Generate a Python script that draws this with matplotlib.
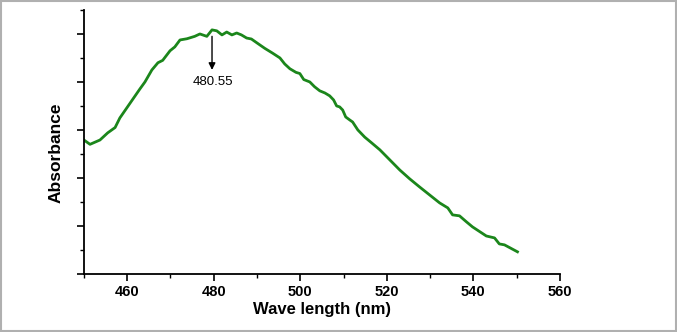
import matplotlib.pyplot as plt
from matplotlib.patches import Rectangle
from matplotlib.ticker import MultipleLocator, NullFormatter

plt.rcParams['font.family'] = ['Liberation Sans', 'DejaVu Sans']

# absorbance spectrum (arbitrary units)
wavelength = [450.0, 451.4, 453.7, 455.5, 457.2, 458.3, 460.6, 462.9, 464.1, 465.7,
              467.1, 468.2, 469.9, 471.0, 472.2, 473.8, 475.6, 476.8, 478.4, 479.6,
              480.7, 481.9, 483.0, 484.2, 485.3, 486.4, 487.6, 488.7, 490.2, 491.8,
              493.6, 495.3, 496.4, 497.6, 499.0, 499.9, 500.8, 502.2, 503.3, 504.5,
              505.7, 506.8, 507.7, 508.4, 509.1, 509.8, 510.5, 511.4, 512.1, 513.3,
              514.9, 516.5, 518.4, 520.7, 523.0, 525.3, 527.6, 529.9, 532.2, 534.1,
              535.2, 536.8, 538.4, 539.8, 543.0, 544.9, 546.0, 547.2, 550.2]
absorbance = [0.558, 0.54, 0.558, 0.588, 0.61, 0.65, 0.71, 0.77, 0.80, 0.85,
              0.88, 0.89, 0.93, 0.946, 0.975, 0.98, 0.99, 1.0, 0.99, 1.017,
              1.013, 0.996, 1.008, 0.996, 1.004, 0.996, 0.983, 0.979, 0.96, 0.94,
              0.92, 0.90, 0.875, 0.855, 0.84, 0.835, 0.81, 0.80, 0.78, 0.763,
              0.754, 0.742, 0.725, 0.70, 0.696, 0.683, 0.654, 0.642, 0.633, 0.60,
              0.57, 0.546, 0.517, 0.475, 0.433, 0.396, 0.362, 0.329, 0.296, 0.275,
              0.246, 0.242, 0.217, 0.196, 0.158, 0.15, 0.125, 0.121, 0.092]

peak_x = 479.6      # where the arrow sits on the plot
peak_label = '480.55'

fig = plt.figure(figsize=(6.77, 3.32), dpi=100)
ax = fig.add_axes([0.124, 0.175, 0.703, 0.795])

ax.plot(wavelength, absorbance, color='#1b861b', lw=2.0)

# arrow pointing down from the peak, label underneath
ax.annotate('', xy=(peak_x, 0.85), xytext=(peak_x, 0.99),
            arrowprops=dict(arrowstyle='-|>', color='black', lw=1.0,
                            mutation_scale=10, shrinkA=0, shrinkB=0))
ax.text(peak_x + 0.2, 0.825, peak_label, ha='center', va='top', fontsize=9.5)

ax.set_xlim(450, 560)
ax.set_ylim(0, 1.1)
ax.xaxis.set_major_locator(MultipleLocator(20))
ax.xaxis.set_minor_locator(MultipleLocator(10))
ax.yaxis.set_major_locator(MultipleLocator(0.2))
ax.yaxis.set_minor_locator(MultipleLocator(0.1))
ax.yaxis.set_major_formatter(NullFormatter())
ax.set_xticks([460, 480, 500, 520, 540, 560])

for side in ['top', 'right']:
    ax.spines[side].set_visible(False)
for side in ['left', 'bottom']:
    ax.spines[side].set_linewidth(1.3)

ax.tick_params(which='major', direction='out', length=5, width=1.2, pad=3)
ax.tick_params(which='minor', direction='out', length=3, width=1.0)
for lab in ax.get_xticklabels():
    lab.set_fontweight('bold')
    lab.set_fontsize(10.5)

ax.set_xlabel('Wave length (nm)', fontsize=12, fontweight='bold', labelpad=2)
ax.set_ylabel('Absorbance', fontsize=12.5, fontweight='bold')
ax.yaxis.set_label_coords(-0.042, 0.46)

fig.patches.append(Rectangle((0.002, 0.003), 0.996, 0.994, transform=fig.transFigure,
                             fill=False, edgecolor='#b0b0b0', lw=1.5))

fig.savefig('out.png', dpi=100)
